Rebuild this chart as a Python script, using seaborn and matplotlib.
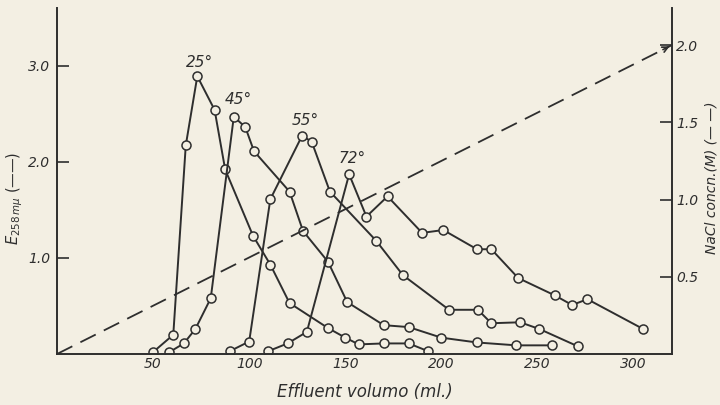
import numpy as np
import pandas as pd
import matplotlib
matplotlib.use("Agg")
import matplotlib.pyplot as plt
import seaborn as sns

# ---- data ----
x25 = [50, 60.5, 67, 73, 82, 87.5, 102, 111, 121, 141, 150, 157, 170, 183, 193]
e25 = [0.02, 0.20, 2.17, 2.89, 2.54, 1.92, 1.23, 0.93, 0.53, 0.27, 0.17, 0.10, 0.11, 0.11, 0.03]

x45 = [58.5, 66, 72, 80, 92, 98, 102.5, 121, 128, 141, 151, 170, 183, 200, 218.5, 239, 257.5]
e45 = [0.02, 0.11, 0.26, 0.58, 2.47, 2.36, 2.11, 1.69, 1.28, 0.96, 0.54, 0.30, 0.28, 0.17, 0.12, 0.09, 0.09]

x55 = [90, 100, 111, 127.5, 132.5, 142, 166, 180, 204, 219, 226, 241, 251, 271]
e55 = [0.03, 0.13, 1.61, 2.27, 2.21, 1.69, 1.18, 0.82, 0.46, 0.46, 0.32, 0.33, 0.26, 0.08]

x72 = [110, 120, 130, 152, 161, 172, 190, 201, 218.5, 226, 240, 259, 268, 276, 305]
e72 = [0.03, 0.11, 0.23, 1.87, 1.43, 1.64, 1.26, 1.29, 1.09, 1.09, 0.79, 0.61, 0.51, 0.57, 0.26]

series_names = ["25°", "45°", "55°", "72°"]
label_pos_x = [74, 94.5, 129, 153.5]
label_pos_y = [2.96, 2.57, 2.35, 1.96]

x_nacl = [0, 320]
c_nacl = [0.0, 2.0]

x_ticks = [50, 100, 150, 200, 250, 300]
y_ticks_left = [1.0, 2.0, 3.0]
y_ticks_right = [0.5, 1.0, 1.5, 2.0]

# ---- style ----
bg = "#f3efe3"
ink = "#2e2e2e"
sns.set_theme(style="white", rc={"figure.facecolor": bg, "axes.facecolor": bg,
                                 "savefig.facecolor": bg})
plt.rcParams["font.family"] = ["DejaVu Sans"]

fig = plt.figure(figsize=(7.2, 4.05), dpi=100)
ax = fig.add_axes([57/720, 1 - 354/405, (672-57)/720, (354-8)/405])
ax2 = ax.twinx()

frames = []
for name, xs, ys in zip(series_names, [x25, x45, x55, x72], [e25, e45, e55, e72]):
    frames.append(pd.DataFrame({"v": xs, "E": ys, "s": name}))
df = pd.concat(frames, ignore_index=True)

sns.lineplot(data=df, x="v", y="E", hue="s", units="s", estimator=None,
             palette=[ink]*4, legend=False, ax=ax, lw=1.4, marker="o",
             markersize=6.5, markerfacecolor=bg, markeredgecolor=ink,
             markeredgewidth=1.1, sort=False)

ndf = pd.DataFrame({"v": x_nacl, "c": c_nacl})
sns.lineplot(data=ndf, x="v", y="c", ax=ax2, color=ink, lw=1.3, legend=False)
for ln in ax2.lines:
    ln.set_dashes([9.5, 5])
ax2.annotate("", xy=(x_nacl[1], c_nacl[1]),
             xytext=(x_nacl[1] - 6, c_nacl[1] - 6 * (c_nacl[1] - c_nacl[0]) / (x_nacl[1] - x_nacl[0])),
             arrowprops=dict(arrowstyle="->", color=ink, lw=1.2, mutation_scale=10))

ax.set_xlim(0, 320)
ax.set_ylim(0, 3.6)
ax2.set_ylim(0, 2.24)

tfont = dict(fontstyle="italic", fontsize=10)
ax.set_xticks(x_ticks)
ax.set_xticklabels([str(t) for t in x_ticks], **tfont)
ax.set_yticks(y_ticks_left)
ax.set_yticklabels([f"{t:.1f}" for t in y_ticks_left], **tfont)
ax2.set_yticks(y_ticks_right)
ax2.set_yticklabels([f"{t:.1f}" for t in y_ticks_right], **tfont)

ax.tick_params(axis="both", direction="in", length=8.5, width=1.2, colors=ink)
ax.tick_params(axis="x", pad=2)
ax.tick_params(axis="y", pad=5)
ax2.tick_params(axis="y", direction="in", length=8.5, width=1.2, colors=ink, pad=3)

for a in (ax, ax2):
    a.spines["top"].set_visible(False)
    for s in a.spines.values():
        s.set_color(ink)
        s.set_linewidth(1.4)
ax.spines["right"].set_visible(False)
ax2.spines["left"].set_visible(False)
ax2.spines["bottom"].set_visible(False)

ax.set_xlabel("Effluent volumo (ml.)", fontstyle="italic", fontsize=12, color=ink)
ax.xaxis.set_label_coords(0.5, -0.085)
ax.set_ylabel(r"$E_{258\,m\mu}$ (——)", fontsize=10.5, color=ink)
ax.yaxis.set_label_coords(-0.052, 0.45)
ax2.set_ylabel("NaCl concn.(M) (— —)", fontstyle="italic", fontsize=10, color=ink)
ax2.yaxis.set_label_coords(1.053, 0.51)

for name, lx, ly in zip(series_names, label_pos_x, label_pos_y):
    ax.text(lx, ly, name, ha="center", va="bottom", fontstyle="italic",
            fontsize=11, color=ink)

fig.savefig("out.png", dpi=100, facecolor=bg)
